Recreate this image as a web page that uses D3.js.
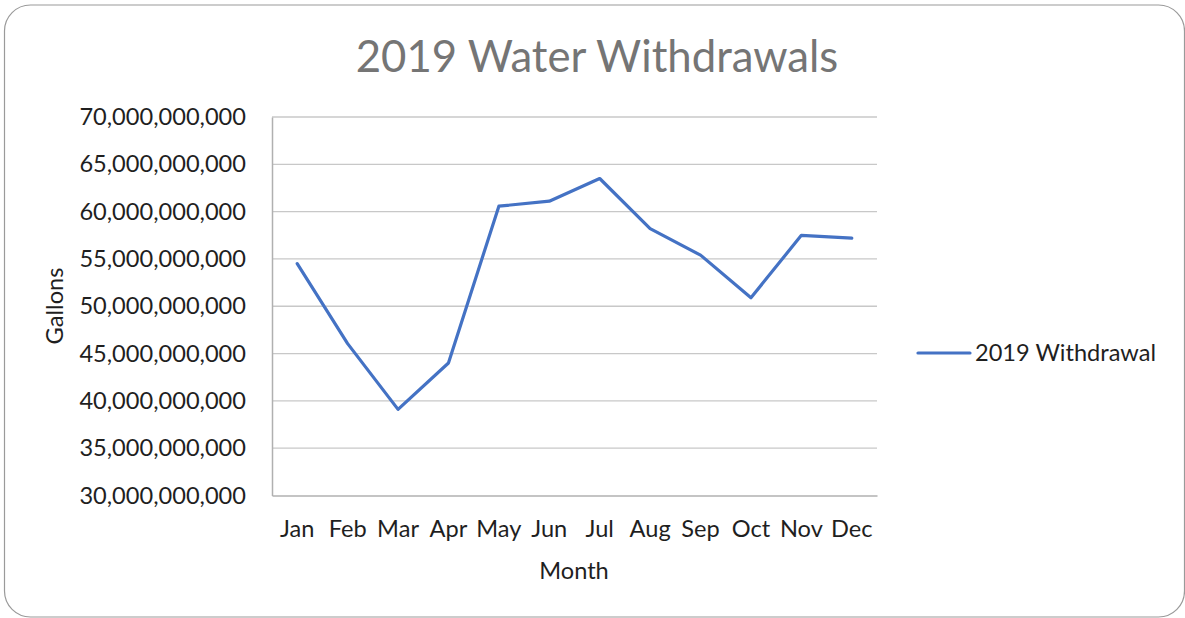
<!DOCTYPE html>
<html>
<head>
<meta charset="utf-8">
<script src="https://cdn.jsdelivr.net/npm/d3@7"></script>
<style>
  html, body { margin: 0; padding: 0; background: #fff; }
  svg { display: block; }
  text { font-family: Lato, "Open Sans", sans-serif; }
</style>
</head>
<body>
<svg id="chart" width="1185" height="618"></svg>
<script>
const months = ["Jan","Feb","Mar","Apr","May","Jun","Jul","Aug","Sep","Oct","Nov","Dec"];
const withdrawals = [54.5e9, 46.05e9, 39.1e9, 44.0e9, 60.58e9, 61.1e9, 63.5e9, 58.2e9, 55.4e9, 50.9e9, 57.5e9, 57.2e9];
const yTicks = [30e9, 35e9, 40e9, 45e9, 50e9, 55e9, 60e9, 65e9, 70e9];
const seriesName = "2019 Withdrawal";
const titleText = "2019 Water Withdrawals";
const xTitle = "Month";
const yTitle = "Gallons";

const svg = d3.select("#chart");
const plot = {left: 272, right: 877, top: 117, bottom: 495.5};
const fs = 23.6;

svg.append("rect")
  .attr("x", 4.5).attr("y", 5).attr("width", 1180).attr("height", 612)
  .attr("rx", 26).attr("ry", 26)
  .attr("fill", "#fff").attr("stroke", "#9a9a9a").attr("stroke-width", 1.2);

const x = d3.scaleBand().domain(months).range([plot.left, plot.right]).padding(0);
const y = d3.scaleLinear().domain([30e9, 70e9]).range([plot.bottom, plot.top]);

// gridlines
svg.append("g").selectAll("line").data(yTicks.filter(t => t > 30e9)).join("line")
  .attr("x1", plot.left).attr("x2", plot.right)
  .attr("y1", d => y(d)).attr("y2", d => y(d))
  .attr("stroke", "#c8c8c8").attr("stroke-width", 1.3);

// y axis
const fmt = d3.format(",");
const yAxis = d3.axisLeft(y).tickValues(yTicks).tickFormat(d => fmt(d)).tickSize(0).tickPadding(26);
const gy = svg.append("g").attr("transform", `translate(${plot.left},0)`).call(yAxis);
gy.select(".domain").attr("stroke", "#b0b0b0").attr("stroke-width", 1.5);
gy.selectAll("text").attr("font-size", fs).attr("fill", "#1f1f1f").attr("font-family", "Lato");

// x axis
const xAxis = d3.axisBottom(x).tickSize(0).tickPadding(25);
const gx = svg.append("g").attr("transform", `translate(0,${plot.bottom})`).call(xAxis);
gx.select(".domain").attr("stroke", "#b0b0b0").attr("stroke-width", 1.5);
gx.selectAll("text").attr("font-size", fs).attr("fill", "#1f1f1f").attr("font-family", "Lato");

// line
const line = d3.line().x((d, i) => x(months[i]) + x.bandwidth() / 2).y(d => y(d));
svg.append("path").datum(withdrawals)
  .attr("d", line).attr("fill", "none")
  .attr("stroke", "#4472c4").attr("stroke-width", 3.2)
  .attr("stroke-linejoin", "round").attr("stroke-linecap", "round");

// title
svg.append("text").attr("x", 597).attr("y", 72).attr("text-anchor", "middle")
  .attr("font-size", 43.7).attr("fill", "#757575").text(titleText);

// axis titles
svg.append("text").attr("x", 574).attr("y", 579).attr("text-anchor", "middle")
  .attr("font-size", fs).attr("fill", "#1f1f1f").text(xTitle);
svg.append("text").attr("transform", "translate(63,306) rotate(-90)").attr("text-anchor", "middle")
  .attr("font-size", fs).attr("fill", "#1f1f1f").text(yTitle);

// legend
const ly = 353;
svg.append("line").attr("x1", 918).attr("x2", 970).attr("y1", ly).attr("y2", ly)
  .attr("stroke", "#4472c4").attr("stroke-width", 3.2).attr("stroke-linecap", "round");
svg.append("text").attr("x", 975).attr("y", ly + 8).attr("font-size", fs)
  .attr("fill", "#1f1f1f").text(seriesName);
</script>
</body>
</html>
